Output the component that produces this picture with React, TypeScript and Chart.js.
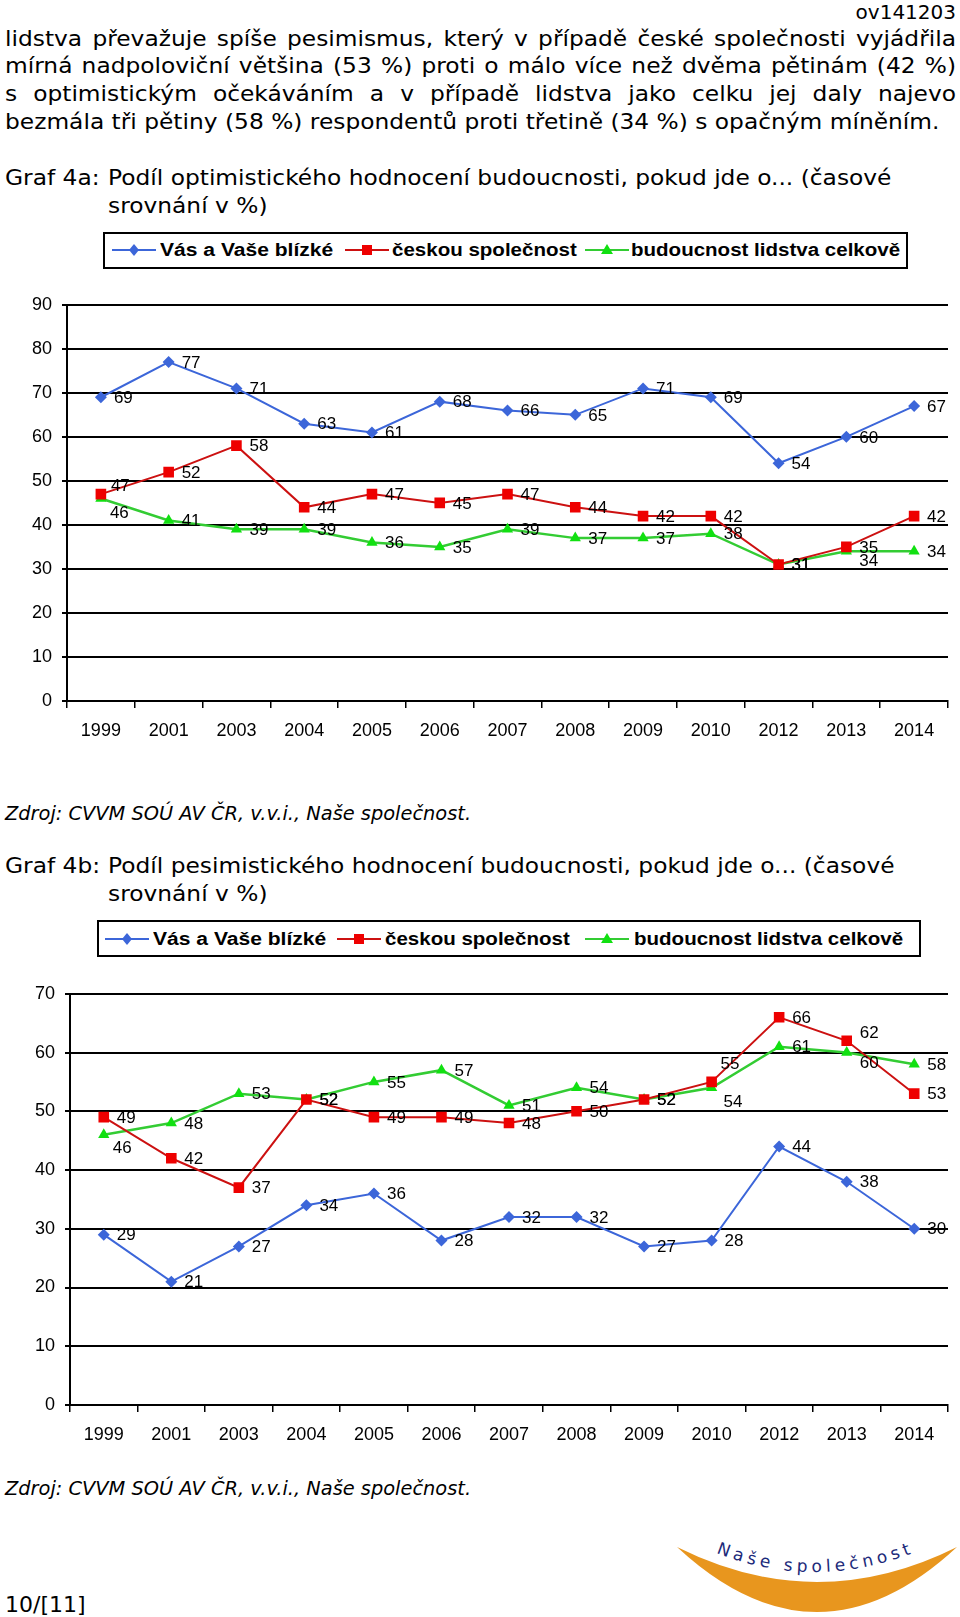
import React, { useEffect, useRef } from "react";
import { Chart, registerables } from "chart.js";
Chart.register(...registerables);

// ---------- data ----------
const years = ["1999", "2001", "2003", "2004", "2005", "2006", "2007", "2008", "2009", "2010", "2012", "2013", "2014"];
const seriesNames = ["Vás a Vaše blízké", "českou společnost", "budoucnost lidstva celkově"];

const optVas = [69, 77, 71, 63, 61, 68, 66, 65, 71, 69, 54, 60, 67];
const optCeska = [47, 52, 58, 44, 47, 45, 47, 44, 42, 42, 31, 35, 42];
const optLidstvo = [46, 41, 39, 39, 36, 35, 39, 37, 37, 38, 31, 34, 34];

const pesVas = [29, 21, 27, 34, 36, 28, 32, 32, 27, 28, 44, 38, 30];
const pesCeska = [49, 42, 37, 52, 49, 49, 48, 50, 52, 55, 66, 62, 53];
const pesLidstvo = [46, 48, 53, 52, 55, 57, 51, 54, 52, 54, 61, 60, 58];

const maxA = 90;
const maxB = 70;
const yStep = 10;

// ---------- styles ----------
const FONT_DOC = '"DejaVu Sans", Verdana, sans-serif';
const FONT_CHART = '"Liberation Sans", Arial, Helvetica, sans-serif';
const BLUE = "#3c66d9";
const RED_LINE = "#cc1111";
const RED_MARK = "#ee0000";
const GREEN_LINE = "#33cc33";
const GREEN_MARK = "#11e011";

// label placement exceptions: "datasetIndex-pointIndex": [dx, dy]
const labelOffsetsA: Record<string, [number, number]> = {
  "1-0": [10, -8],
  "2-0": [9, 15],
  "2-11": [13, 10],
};
const labelOffsetsB: Record<string, [number, number]> = {
  "2-0": [9, 14],
  "1-9": [9, -18],
  "2-9": [12, 15],
  "1-11": [13, -7],
  "2-11": [13, 11],
};

const pointLabelPlugin = {
  id: "pointLabels",
  afterDatasetsDraw(chart: any, _args: any, opts: any) {
    const ctx = chart.ctx;
    ctx.save();
    ctx.font = `17px ${FONT_CHART}`;
    ctx.fillStyle = "#000";
    ctx.textAlign = "left";
    ctx.textBaseline = "middle";
    chart.data.datasets.forEach((ds: any, di: number) => {
      const meta = chart.getDatasetMeta(di);
      meta.data.forEach((pt: any, i: number) => {
        const off = (opts.offsets && opts.offsets[`${di}-${i}`]) || [13, 1];
        ctx.fillText(String(ds.data[i]), pt.x + off[0], pt.y + off[1]);
      });
    });
    ctx.restore();
  },
};

type ChartProps = {
  top: number;
  height: number;
  max: number;
  axisWidth: number;
  xHeight: number;
  vas: number[];
  ceska: number[];
  lidstvo: number[];
  offsets: Record<string, [number, number]>;
};

function LineChart(p: ChartProps) {
  const ref = useRef<HTMLCanvasElement>(null);
  useEffect(() => {
    const chart = new Chart(ref.current as HTMLCanvasElement, {
      type: "line",
      data: {
        labels: years,
        datasets: [
          {
            label: seriesNames[0],
            data: p.vas,
            borderColor: BLUE,
            backgroundColor: BLUE,
            borderWidth: 2,
            pointStyle: "rectRot",
            pointRadius: 6,
            pointBorderWidth: 0,
            tension: 0,
          },
          {
            label: seriesNames[1],
            data: p.ceska,
            borderColor: RED_LINE,
            backgroundColor: RED_MARK,
            borderWidth: 2,
            pointStyle: "rect",
            pointRadius: 7.5,
            pointBorderWidth: 0,
            tension: 0,
          },
          {
            label: seriesNames[2],
            data: p.lidstvo,
            borderColor: GREEN_LINE,
            backgroundColor: GREEN_MARK,
            borderWidth: 2.5,
            pointStyle: "triangle",
            pointRadius: 6.5,
            pointBorderWidth: 0,
            tension: 0,
          },
        ],
      },
      options: {
        animation: false,
        responsive: false,
        maintainAspectRatio: false,
        layout: { padding: { top: 0, right: 12, left: 0, bottom: 0 } },
        plugins: {
          legend: { display: false },
          tooltip: { enabled: false },
          // @ts-ignore
          pointLabels: { offsets: p.offsets },
        },
        scales: {
          x: {
            offset: true,
            ticks: {
              color: "#000",
              font: { size: 18, family: FONT_CHART },
              padding: 12,
              maxRotation: 0,
              autoSkip: false,
            },
            grid: {
              offset: true,
              drawOnChartArea: false,
              color: "#000",
              lineWidth: 1.5,
              tickLength: 7,
            },
            border: { color: "#000", width: 2 },
            afterFit: (s: any) => {
              s.height = p.xHeight;
            },
          },
          y: {
            min: 0,
            max: p.max,
            ticks: {
              stepSize: yStep,
              color: "#000",
              font: { size: 18, family: FONT_CHART },
              padding: 10,
            },
            grid: { color: "#000", lineWidth: 2, tickLength: 5 },
            border: { color: "#000", width: 2 },
            afterFit: (s: any) => {
              s.width = p.axisWidth;
            },
          },
        },
      },
      plugins: [pointLabelPlugin],
    } as any);
    return () => chart.destroy();
  }, []);
  return (
    <canvas
      ref={ref}
      width={960}
      height={p.height}
      style={{ position: "absolute", left: 0, top: p.top, width: 960, height: p.height }}
    />
  );
}

function Marker({ kind }: { kind: number }) {
  const line = kind === 0 ? BLUE : kind === 1 ? RED_LINE : GREEN_LINE;
  return (
    <svg width={44} height={16} style={{ display: "block" }}>
      <line x1={0} y1={8} x2={44} y2={8} stroke={line} strokeWidth={2} />
      {kind === 0 && <polygon points="22,2 27,8 22,14 17,8" fill={BLUE} />}
      {kind === 1 && <rect x={17} y={3} width={10} height={10} fill={RED_MARK} />}
      {kind === 2 && <polygon points="22,2 28,12 16,12" fill={GREEN_MARK} />}
    </svg>
  );
}

function Legend({ box, items, cy }: { box: [number, number, number, number]; items: [number, number, number][]; cy: number }) {
  return (
    <>
      <div
        style={{
          position: "absolute",
          left: box[0],
          top: box[1],
          width: box[2],
          height: box[3],
          border: "2px solid #000",
          boxSizing: "border-box",
        }}
      />
      {items.map(([lx, tx, k], i) => (
        <React.Fragment key={i}>
          <div style={{ position: "absolute", left: lx, top: cy - 8 }}>
            <Marker kind={i} />
          </div>
          <div
            style={{
              position: "absolute",
              left: tx,
              top: cy - 12,
              height: 24,
              lineHeight: "24px",
              fontFamily: FONT_CHART,
              fontWeight: "bold",
              fontSize: 18,
              whiteSpace: "nowrap",
              transform: `scaleX(${k})`,
              transformOrigin: "left center",
            }}
          >
            {seriesNames[i]}
          </div>
        </React.Fragment>
      ))}
    </>
  );
}

function Line({ x, cy, w, justify, size = 22, k = 1.06, italic, children }: any) {
  const lh = 28;
  return (
    <div
      style={{
        position: "absolute",
        left: x,
        top: cy - lh / 2,
        width: w / k,
        height: lh,
        lineHeight: lh + "px",
        fontSize: size,
        fontFamily: FONT_DOC,
        fontStyle: italic ? "italic" : "normal",
        textAlign: justify ? "justify" : "left",
        textAlignLast: justify ? "justify" : "auto",
        whiteSpace: justify ? "normal" : "nowrap",
        color: "#000",
        transform: `scaleX(${k})`,
        transformOrigin: "left center",
      } as any}
    >
      {children}
    </div>
  );
}

export default function App() {
  return (
    <div
      style={{
        position: "absolute",
        left: 0,
        top: 0,
        width: 960,
        height: 1617,
        overflow: "hidden",
        background: "#fff",
      }}
    >
      <div
        style={{
          position: "absolute",
          right: 4,
          top: 0,
          lineHeight: "24px",
          fontSize: 20,
          fontFamily: FONT_DOC,
        }}
      >
        ov141203
      </div>
      <Line x={5} cy={39} w={951} justify>
        lidstva převažuje spíše pesimismus, který v případě české společnosti vyjádřila
      </Line>
      <Line x={5} cy={66} w={951} justify>
        mírná nadpoloviční většina (53 %) proti o málo více než dvěma pětinám (42 %)
      </Line>
      <Line x={5} cy={94} w={951} justify>
        s optimistickým očekáváním a v případě lidstva jako celku jej daly najevo
      </Line>
      <Line x={5} cy={122} w={951}>
        bezmála tři pětiny (58 %) respondentů proti třetině (34 %) s opačným míněním.
      </Line>

      <Line x={5} cy={178} w={100}>Graf 4a:</Line>
      <Line x={108} cy={178} w={845}>Podíl optimistického hodnocení budoucnosti, pokud jde o... (časové</Line>
      <Line x={108} cy={206} w={845}>srovnání v %)</Line>

      <Legend box={[103, 232, 805, 37]} items={[[112, 160, 1.17], [345, 392, 1.14], [585, 631, 1.14]]} cy={250} />
      <LineChart
        top={284}
        height={466}
        max={maxA}
        axisWidth={67}
        xHeight={49}
        vas={optVas}
        ceska={optCeska}
        lidstvo={optLidstvo}
        offsets={labelOffsetsA}
      />
      <Line x={5} cy={813} w={700} size={19} k={1.02} italic>
        Zdroj: CVVM SOÚ AV ČR, v.v.i., Naše společnost.
      </Line>

      <Line x={5} cy={866} w={100}>Graf 4b:</Line>
      <Line x={108} cy={866} w={845}>Podíl pesimistického hodnocení budoucnosti, pokud jde o... (časové</Line>
      <Line x={108} cy={894} w={845}>srovnání v %)</Line>

      <Legend box={[97, 920, 824, 37]} items={[[105, 153, 1.17], [337, 385, 1.14], [585, 634, 1.14]]} cy={939} />
      <LineChart
        top={973}
        height={487}
        max={maxB}
        axisWidth={70}
        xHeight={55}
        vas={pesVas}
        ceska={pesCeska}
        lidstvo={pesLidstvo}
        offsets={labelOffsetsB}
      />
      <Line x={5} cy={1488} w={700} size={19} k={1.02} italic>
        Zdroj: CVVM SOÚ AV ČR, v.v.i., Naše společnost.
      </Line>

      <svg style={{ position: "absolute", left: 660, top: 1520 }} width={300} height={97}>
        <path d="M 17 27 Q 157 157 297 27 Q 157 97 17 27 Z" fill="#e8961e" />
        <path id="arcText" d="M 56 33 Q 157 72 258 31" fill="none" />
        <text fontFamily='"DejaVu Sans", sans-serif' fontSize={17} fill="#1c2a7a">
          <textPath href="#arcText" textLength={200} lengthAdjust="spacing">
            Naše společnost
          </textPath>
        </text>
      </svg>

      <Line x={5} cy={1605} w={200} size={22} k={1}>
        10/[11]
      </Line>
    </div>
  );
}
